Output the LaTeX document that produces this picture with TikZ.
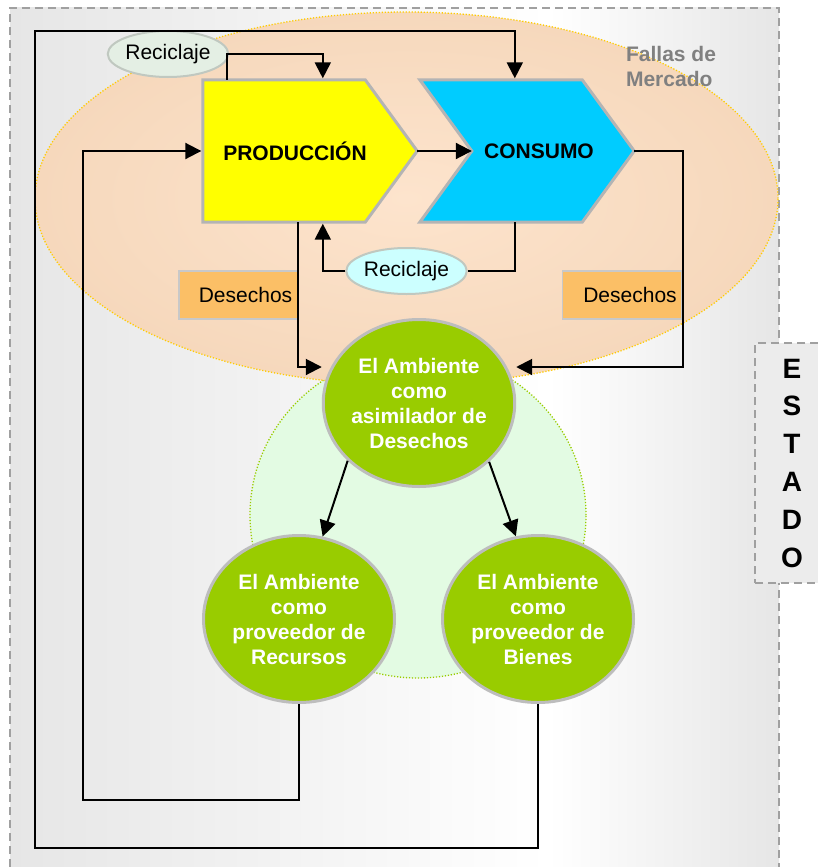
\documentclass[tikz,border=0pt]{standalone}
\usepackage{fontspec}
\setmainfont{Liberation Sans}
\usetikzlibrary{arrows.meta,shapes.geometric}

% palette
\definecolor{panelgray}{HTML}{E6E6E6}
\definecolor{panelrim}{HTML}{A0A0A0}
\definecolor{marketin}{HTML}{FDE4CD}
\definecolor{marketout}{HTML}{F6D8BC}
\definecolor{marketrim}{HTML}{FFCC00}
\definecolor{naturefill}{HTML}{E3FBE3}
\definecolor{naturerim}{HTML}{99CC00}
\definecolor{prodyellow}{HTML}{FFFF00}
\definecolor{conscyan}{HTML}{00CCFF}
\definecolor{platerimc}{HTML}{B4B4B4}
\definecolor{ballgreen}{HTML}{99CC00}
\definecolor{ballrim}{HTML}{BDBDBD}
\definecolor{recycleA}{HTML}{E4EFE4}
\definecolor{recycleB}{HTML}{CCFFFF}
\definecolor{recyclerim}{HTML}{C0C8C0}
\definecolor{wastefill}{HTML}{FBBF66}
\definecolor{wasterim}{HTML}{C8C8C8}
\definecolor{failgray}{HTML}{808080}
\definecolor{statefill}{HTML}{ECECEC}

% light panel: grey at the sides, white towards the right of centre
\pgfdeclarehorizontalshading{panelshade}{100bp}{color(0bp)=(panelgray); color(25bp)=(panelgray); color(60bp)=(white); color(75bp)=(panelgray); color(100bp)=(panelgray)}

\pgfdeclarelayer{backdrop}
\pgfdeclarelayer{plates}
\pgfsetlayers{backdrop,plates,main}

\begin{document}
\begin{tikzpicture}[x=1pt, y=-1pt,
  flow/.style={draw=black, line width=2pt, -{Triangle[length=16pt,width=16pt]}},
  link/.style={draw=black, line width=2pt},
  plate/.style={rectangle, inner sep=0pt, minimum width=214pt, minimum height=142pt,
    font=\fontsize{21}{25}\selectfont\bfseries},
  plateedge/.style={draw=platerimc, line width=3pt},
  ball/.style={ellipse, draw=ballrim, line width=3pt, fill=ballgreen, inner sep=0pt,
    minimum width=191pt, minimum height=167pt, text=white, align=center,
    font=\fontsize{21}{25}\selectfont\bfseries},
  recycle/.style={ellipse, draw=recyclerim, line width=2pt, inner sep=0pt,
    minimum width=119pt, minimum height=46pt, font=\fontsize{21}{25}\selectfont},
  waste/.style={rectangle, draw=wasterim, line width=1.5pt, fill=wastefill, inner sep=0pt,
    minimum width=119pt, minimum height=48pt, font=\fontsize{21}{25}\selectfont},
  rimdash/.style={draw=panelrim, line width=1.6pt, dash pattern=on 8pt off 5pt},
  dotrim/.style={line width=1.3pt, dash pattern=on 1.2pt off 1.8pt},
]
\path[use as bounding box] (0,0) rectangle (818,867);

% panel and the two regions
\begin{pgfonlayer}{backdrop}
  \shade[shading=panelshade] (10,8) rectangle (779,867);
  \draw[rimdash] (10,867) -- (10,8) -- (779,8) -- (779,867);
  \draw[dotrim, draw=naturerim, fill=naturefill] (418,515) ellipse [x radius=168pt, y radius=163pt];
  \draw[dotrim, draw=marketrim, inner color=marketin, outer color=marketout]
    (406.5,198.5) ellipse [x radius=371.5pt, y radius=186.5pt];
\end{pgfonlayer}

\node[font=\fontsize{21}{25}\selectfont\bfseries, text=failgray, align=left, inner sep=0pt]
  (fallas) at (671,66) {Fallas de\\Mercado};

% state box on the right edge
\node[rimdash, fill=statefill, minimum width=74pt, minimum height=240pt, inner sep=0pt,
  align=center, font=\fontsize{28}{37.8}\selectfont\bfseries]
  (estado) at (792,463) {E\\S\\T\\A\\D\\O};

% production and consumption plates
\node[plate] (prod) at (310,151) {PRODUCCIÓN\hspace*{30pt}};
\node[plate] (cons) at (527,151) {\hspace*{24pt}CONSUMO};
\begin{pgfonlayer}{plates}
  \draw[plateedge, fill=prodyellow] (prod.north west) -- ([xshift=-52pt]prod.north east)
    -- (prod.east) -- ([xshift=-52pt]prod.south east) -- (prod.south west) -- cycle;
  \draw[plateedge, fill=conscyan] (cons.north west) -- ([xshift=-52pt]cons.north east)
    -- (cons.east) -- ([xshift=-52pt]cons.south east) -- (cons.south west)
    -- ([xshift=52pt]cons.west) -- cycle;
\end{pgfonlayer}

% waste and recycling labels
\node[waste] (wasteL) at (238.5,295) {\hspace*{14pt}Desechos};
\node[waste] (wasteR) at (622,295) {\hspace*{16pt}Desechos};
\node[recycle, fill=recycleA] (recTop) at (168,54) {Reciclaje};
\node[recycle, fill=recycleB] (recBot) at (406.5,271) {Reciclaje};

% environment functions
\node[ball] (asim) at (419,403) {El Ambiente\\como\\asimilador de\\Desechos};
\node[ball] (recu) at (299,619) {El Ambiente\\como\\proveedor de\\Recursos};
\node[ball] (bien) at (538,619) {El Ambiente\\como\\proveedor de\\Bienes};

% connectors
\draw[flow] (bien.south) |- (35,848) -- (35,31) -| ([xshift=95pt,yshift=1.5pt]cons.north west);
\draw[flow] (recu.south) |- (83,800) |- ([xshift=-1.5pt]prod.west);
\draw[flow] ([xshift=24pt]prod.north west) |- (recTop.east) -| ([xshift=120pt,yshift=1.5pt]prod.north west);
\draw[flow] (prod.east) -- ([xshift=52pt]cons.west);
\draw[link] ([xshift=95pt]cons.south west) |- (recBot.east);
\draw[flow] (recBot.west) -| ([xshift=120pt,yshift=-1.5pt]prod.south west);
\draw[flow] ([xshift=95pt]prod.south west) |- ([yshift=36pt]asim.west);
\draw[flow] (cons.east) -- ++(49,0) |- ([yshift=36pt]asim.east);
\draw[flow] (asim.219) -- (recu.74);
\draw[flow] (asim.320) -- (bien.105);
\end{tikzpicture}
\end{document}
